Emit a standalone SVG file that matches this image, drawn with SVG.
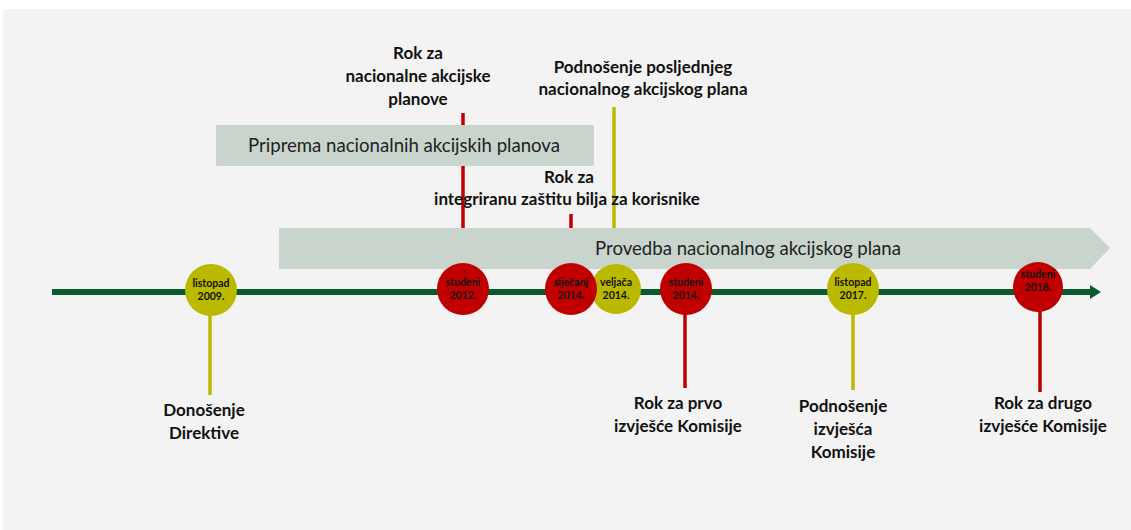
<svg xmlns="http://www.w3.org/2000/svg" width="1131" height="530" viewBox="0 0 1131 530">
<defs>
<style>
.lbl{font-family:Lato,"Liberation Sans",sans-serif;font-weight:bold;font-size:17px;fill:#111;text-anchor:middle}
.bar{font-family:Lato,"Liberation Sans",sans-serif;font-size:18.6px;fill:#222;text-anchor:middle}
.dt{font-family:Lato,"Liberation Sans",sans-serif;font-weight:bold;font-size:10.5px;fill:#111;text-anchor:middle}
.red{fill:#c00000}
.yel{fill:#bab900}
.sr{stroke:#c00000;stroke-width:3.5;fill:none}
.sy{stroke:#bab900;stroke-width:3.5;fill:none}
.box{fill:#c9d4cc}
</style>
</defs>
<rect x="0" y="0" width="1131" height="530" fill="#ffffff"/>
<rect x="3" y="9" width="1128" height="521" fill="#f3f3f3"/>
<g id="connectors">
<line class="sr" x1="463" y1="113" x2="463" y2="230"/>
<line class="sr" x1="571" y1="214" x2="571" y2="230"/>
<line class="sy" x1="614" y1="107" x2="614" y2="230"/>
<line class="sy" x1="210" y1="310" x2="210" y2="395"/>
<line class="sr" x1="685" y1="310" x2="685" y2="388"/>
<line class="sy" x1="853" y1="310" x2="853" y2="390"/>
<line class="sr" x1="1040" y1="310" x2="1040" y2="392"/>
</g>
<g id="phase-priprema">
<rect class="box" x="216" y="125" width="378" height="41" rx="2"/>
<text class="bar" x="404" y="152">Priprema  nacionalnih akcijskih planova</text>
</g>
<g id="phase-provedba">
<polygon class="box" points="279,228 1090,228 1110,248 1090,269 279,269"/>
<text class="bar" x="748" y="255">Provedba  nacionalnog akcijskog plana</text>
</g>
<g id="timeline">
<line x1="52" y1="292" x2="1092" y2="292" stroke="#0b5a2b" stroke-width="6"/>
<polygon points="1090,285 1101,292 1090,299" fill="#0b5a2b"/>
</g>
<g id="m2009">
<circle class="yel" cx="211" cy="290" r="26"/>
<text class="dt" x="211" y="287">listopad</text>
<text class="dt" x="211" y="300">2009.</text>
</g>
<g id="m2012">
<circle class="red" cx="463" cy="289" r="26"/>
<text class="dt" x="463" y="286">studeni</text>
<text class="dt" x="463" y="299">2012.</text>
</g>
<g id="m2014v">
<circle class="yel" cx="616" cy="289" r="25"/>
<text class="dt" x="616" y="286">veljača</text>
<text class="dt" x="616" y="299">2014.</text>
</g>
<g id="m2014s">
<circle class="red" cx="571" cy="289" r="26"/>
<text class="dt" x="571" y="286">siječanj</text>
<text class="dt" x="571" y="299">2014.</text>
</g>
<g id="m2014n">
<circle class="red" cx="686" cy="289" r="26"/>
<text class="dt" x="686" y="286">studeni</text>
<text class="dt" x="686" y="299">2014.</text>
</g>
<g id="m2017">
<circle class="yel" cx="853" cy="289" r="26"/>
<text class="dt" x="853" y="286">listopad</text>
<text class="dt" x="853" y="299">2017.</text>
</g>
<g id="m2018">
<circle class="red" cx="1038" cy="287" r="25"/>
<text class="dt" x="1038" y="278">studeni</text>
<text class="dt" x="1038" y="291">2018.</text>
</g>
<g id="lbl-rok-nap">
<text class="lbl" x="418" y="59">Rok za</text>
<text class="lbl" x="418" y="82">nacionalne akcijske</text>
<text class="lbl" x="418" y="105">planove</text>
</g>
<g id="lbl-podnosenje-nap">
<text class="lbl" x="643" y="73">Podnošenje posljednjeg</text>
<text class="lbl" x="643" y="95">nacionalnog akcijskog plana</text>
</g>
<g id="lbl-rok-izb">
<text class="lbl" x="569" y="183">Rok za</text>
<text class="lbl" x="567" y="205">integriranu zaštitu bilja za korisnike</text>
</g>
<g id="lbl-donosenje">
<text class="lbl" x="204" y="416">Donošenje</text>
<text class="lbl" x="204" y="439">Direktive</text>
</g>
<g id="lbl-rok-prvo">
<text class="lbl" x="678" y="409">Rok za prvo</text>
<text class="lbl" x="678" y="432">izvješće Komisije</text>
</g>
<g id="lbl-podnosenje-izv">
<text class="lbl" x="843" y="412">Podnošenje</text>
<text class="lbl" x="843" y="435">izvješća</text>
<text class="lbl" x="843" y="458">Komisije</text>
</g>
<g id="lbl-rok-drugo">
<text class="lbl" x="1043" y="409">Rok za drugo</text>
<text class="lbl" x="1043" y="432">izvješće Komisije</text>
</g>
</svg>
